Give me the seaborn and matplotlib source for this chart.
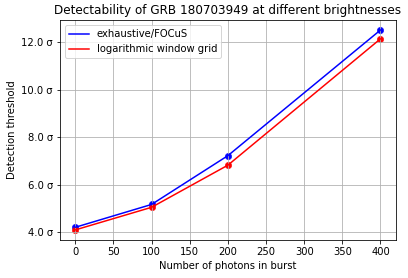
import matplotlib
matplotlib.use("Agg")
import matplotlib.pyplot as plt
import seaborn as sns
from matplotlib.ticker import FormatStrFormatter

# Data
photons = [0, 100, 200, 400]
exhaustive = [4.21, 5.17, 7.22, 12.5]
logwindow = [4.10, 5.05, 6.82, 12.13]

plt.rcParams['font.family'] = ['DejaVu Sans']

fig, ax = plt.subplots(figsize=(408 / 72, 278 / 72), dpi=72)

sns.lineplot(x=photons, y=exhaustive, color='blue', label='exhaustive/FOCuS', ax=ax)
sns.lineplot(x=photons, y=logwindow, color='red', label='logarithmic window grid', ax=ax)
sns.scatterplot(x=photons, y=exhaustive, color='blue', s=40, edgecolor='blue', ax=ax)
sns.scatterplot(x=photons, y=logwindow, color='red', s=40, edgecolor='red', ax=ax)

ax.yaxis.set_major_formatter(FormatStrFormatter('%.1f σ'))
ax.set_yticks([4, 6, 8, 10, 12])
ax.set_xticks(range(0, 401, 50))
ax.grid(True, color='#b0b0b0', linewidth=0.8)
ax.set_title('Detectability of GRB 180703949 at different brightnesses')
ax.set_xlabel('Number of photons in burst')
ax.set_ylabel('Detection threshold')
ax.legend(loc='upper left')

fig.subplots_adjust(left=0.147, right=0.97, top=0.928, bottom=0.137)
fig.savefig('out.png', dpi=72)
